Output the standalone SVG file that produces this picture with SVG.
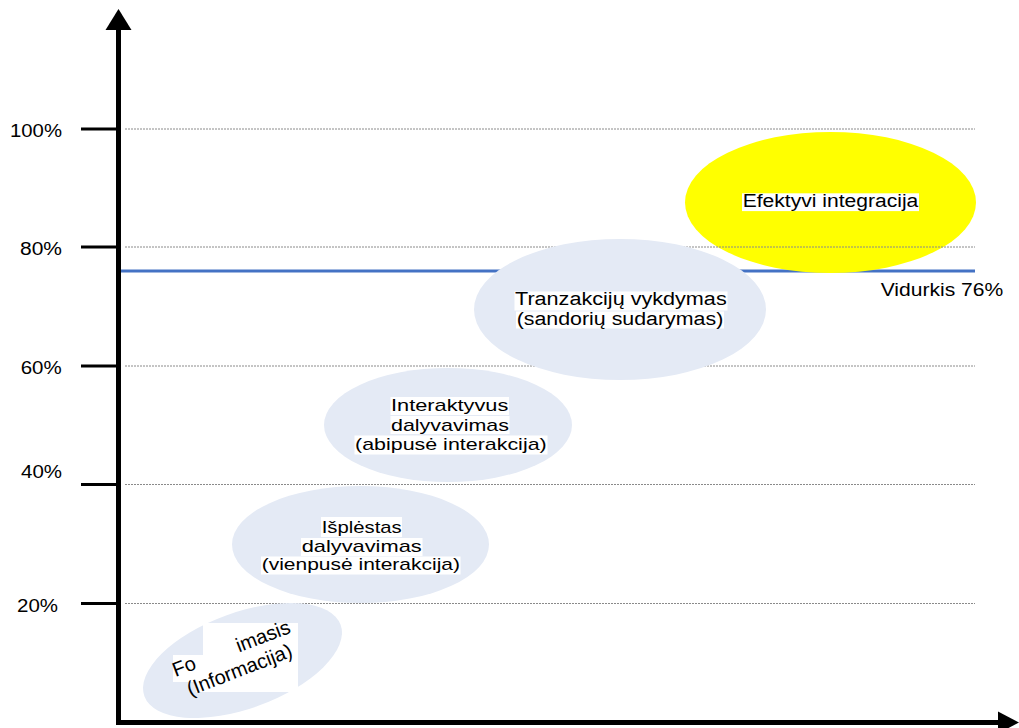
<svg xmlns="http://www.w3.org/2000/svg" width="1019" height="728" viewBox="0 0 1019 728">
  <style>
    text { font-family: "Liberation Sans", Arial, sans-serif; font-size: 18px; fill: #000; }
    .sm { font-size: 17px; }
    .grid { stroke: #8a8a8a; stroke-width: 1; stroke-dasharray: 2 1; fill: none; }
    .tick { stroke: #000; stroke-width: 3; }
    .axis { stroke: #000; stroke-width: 5; fill: none; }
    .bubble { fill: #E4EAF5; }
    .hl { fill: #fff; }
  </style>
  <rect width="1019" height="728" fill="#fff"/>

  <!-- average line -->
  <line x1="120" y1="271" x2="975" y2="271" stroke="#4472C4" stroke-width="3"/>
  <text x="880.7" y="296" textLength="122.6" lengthAdjust="spacingAndGlyphs">Vidurkis 76%</text>

  <!-- yellow ellipse (below gridlines) -->
  <ellipse id="node-efektyvi-shape" cx="830.5" cy="202.5" rx="145.5" ry="70.5" fill="#FFFF00"/>

  <!-- gridlines -->
  <g id="grid">
    <line class="grid" x1="125" y1="129" x2="975" y2="129"/>
    <line class="grid" x1="125" y1="247" x2="975" y2="247"/>
    <line class="grid" x1="125" y1="366" x2="975" y2="366"/>
    <line class="grid" x1="125" y1="484.5" x2="975" y2="484.5"/>
    <line class="grid" x1="125" y1="603.5" x2="975" y2="603.5"/>
  </g>

  <g id="node-efektyvi">
    <rect class="hl" x="742" y="193.3" width="177" height="17.8"/>
    <text x="742.7" y="206.7" textLength="175.6" lengthAdjust="spacingAndGlyphs">Efektyvi integracija</text>
  </g>

  <g id="node-tranzakciju">
    <ellipse class="bubble" cx="620" cy="309.5" rx="146" ry="70.5"/>
    <rect class="hl" x="514.5" y="291.5" width="213" height="19"/>
    <rect class="hl" x="516" y="311.5" width="208" height="17"/>
    <text x="515" y="305" textLength="211.7" lengthAdjust="spacingAndGlyphs">Tranzakcijų vykdymas</text>
    <text x="516.7" y="324.5" textLength="206.6" lengthAdjust="spacingAndGlyphs">(sandorių sudarymas)</text>
  </g>

  <g id="node-interaktyvus">
    <ellipse class="bubble" cx="448" cy="425" rx="124" ry="57"/>
    <rect class="hl" x="390.5" y="397" width="118.5" height="18"/>
    <rect class="hl" x="390.5" y="416" width="119" height="18"/>
    <rect class="hl" x="354.5" y="435.5" width="193" height="19"/>
    <text class="sm" x="391" y="411" textLength="117.3" lengthAdjust="spacingAndGlyphs">Interaktyvus</text>
    <text class="sm" x="391" y="430.5" textLength="118" lengthAdjust="spacingAndGlyphs">dalyvavimas</text>
    <text class="sm" x="355" y="450" textLength="191.7" lengthAdjust="spacingAndGlyphs">(abipusė interakcija)</text>
  </g>

  <g id="node-isplestas">
    <ellipse class="bubble" cx="360.5" cy="544.5" rx="128.5" ry="58.5"/>
    <rect class="hl" x="321" y="517" width="81" height="20"/>
    <rect class="hl" x="301" y="538" width="121.5" height="18"/>
    <rect class="hl" x="261" y="556.5" width="199.5" height="18"/>
    <text class="sm" x="321.7" y="533" textLength="80" lengthAdjust="spacingAndGlyphs">Išplėstas</text>
    <text class="sm" x="301.7" y="551.5" textLength="120" lengthAdjust="spacingAndGlyphs">dalyvavimas</text>
    <text class="sm" x="261.7" y="570" textLength="198.3" lengthAdjust="spacingAndGlyphs">(vienpusė interakcija)</text>
  </g>

  <g id="node-formavimasis">
    <ellipse class="bubble" cx="242.5" cy="660.5" rx="104.4" ry="48" transform="rotate(-20 242.5 660.5)"/>
    <path class="hl" d="M203,623 H298 V692 H196 V682 H173 V655 H203 Z"/>
    <g transform="translate(233.5 654.7) rotate(-21)">
      <text x="-62" y="0" style="font-size:20px">Fo</text>
      <text x="5.8" y="0" style="font-size:20px">imasis</text>
      <text x="-55.5" y="23" style="font-size:20px">(Informacija)</text>
    </g>
  </g>

  <!-- axes -->
  <g id="connectors">
    <line class="axis" x1="118.5" y1="28" x2="118.5" y2="725"/>
    <polygon points="105.5,30 118.5,9 131.5,30" fill="#000"/>
    <line class="axis" x1="121" y1="722.5" x2="999" y2="722.5"/>
    <polygon points="998,711.5 1019,722.5 998,733.5" fill="#000"/>
    <line class="tick" x1="81" y1="129" x2="117" y2="129"/>
    <line class="tick" x1="81" y1="247" x2="117" y2="247"/>
    <line class="tick" x1="81" y1="366" x2="117" y2="366"/>
    <line class="tick" x1="81" y1="484.5" x2="117" y2="484.5"/>
    <line class="tick" x1="81" y1="603.5" x2="117" y2="603.5"/>
  </g>

  <g id="labels">
    <text x="10" y="137" textLength="52" lengthAdjust="spacingAndGlyphs">100%</text>
    <text x="20" y="255" textLength="42" lengthAdjust="spacingAndGlyphs">80%</text>
    <text x="20.7" y="374" textLength="41" lengthAdjust="spacingAndGlyphs">60%</text>
    <text x="21" y="477.7" textLength="41" lengthAdjust="spacingAndGlyphs">40%</text>
    <text x="17" y="611.7" textLength="41" lengthAdjust="spacingAndGlyphs">20%</text>
  </g>
</svg>
